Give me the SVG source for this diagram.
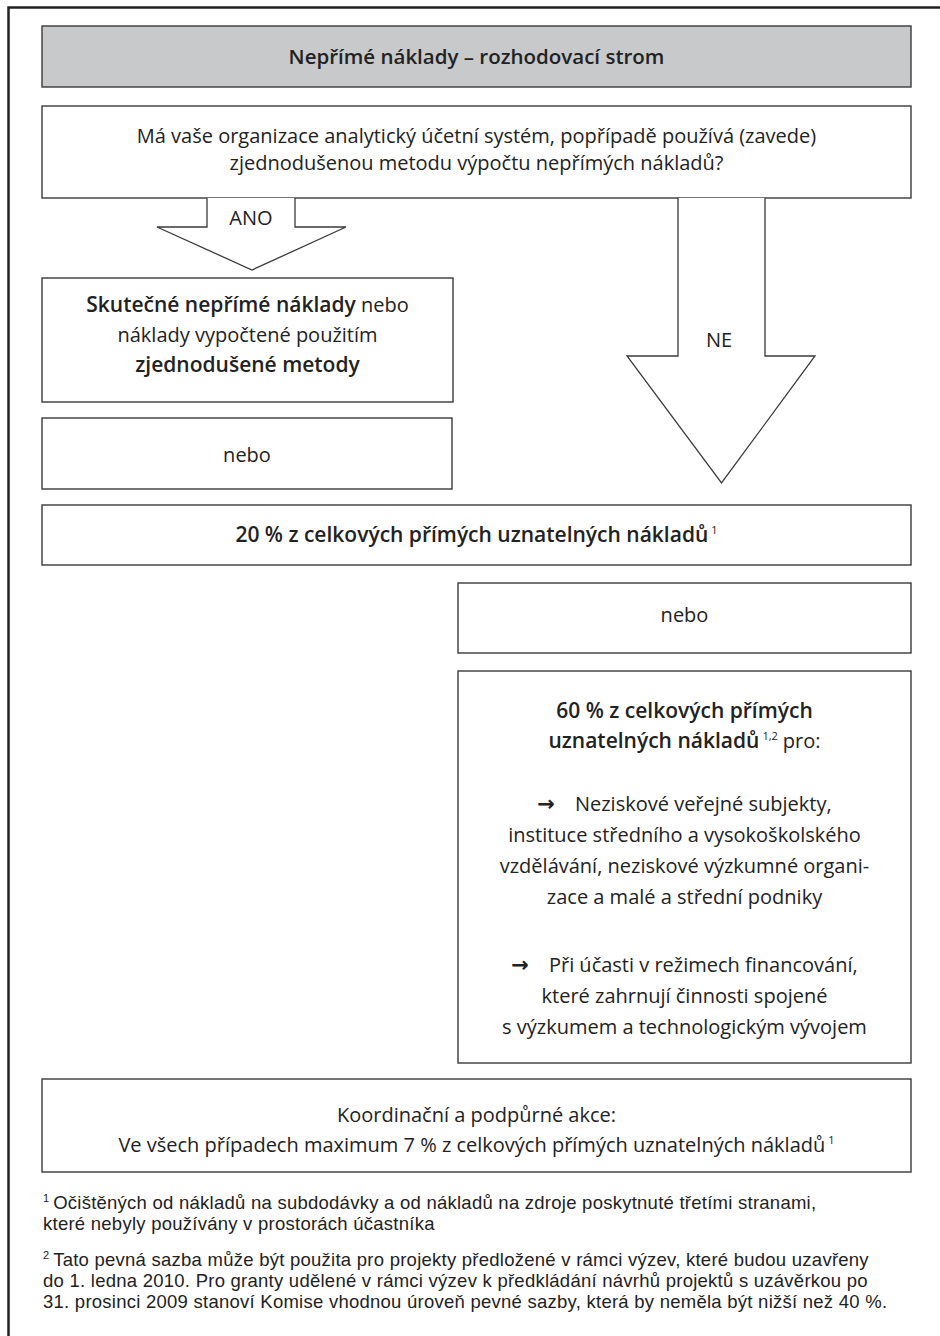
<svg xmlns="http://www.w3.org/2000/svg" width="940" height="1336" viewBox="0 0 940 1336">
<style>
.box{fill:#fff;stroke:#3a3a3a;stroke-width:1.4}
.hdr{fill:#c8c9cb;stroke:#3a3a3a;stroke-width:1.4}
.arr{fill:#fff;stroke:#3a3a3a;stroke-width:1.3;stroke-linejoin:miter}
text{font-family:"Open Sans","Liberation Sans",sans-serif;fill:#222;font-size:20px}
.c{text-anchor:middle}
.b{font-weight:600;font-size:21px}
.t{font-weight:600;font-size:20.5px}
.fn{font-family:"Liberation Sans",Arial,sans-serif;font-size:18.5px;letter-spacing:0.25px}
.sup{font-size:11px;font-weight:normal;letter-spacing:0}
.ar{font-family:"DejaVu Sans",sans-serif;font-weight:bold;font-size:21px}
</style>
<rect width="940" height="1336" fill="#fff"/>
<path d="M8.5,1336 V7.5 H940" fill="none" stroke="#222" stroke-width="2.5"/>
<g id="title">
<rect class="hdr" x="42" y="26" width="869" height="61"/>
<text class="c t" x="476.5" y="64">Nepřímé náklady – rozhodovací strom</text>
</g>
<g id="question">
<rect class="box" x="42" y="106" width="869" height="92"/>
<text class="c" x="476.5" y="143">Má vaše organizace analytický účetní systém, popřípadě používá (zavede)</text>
<text class="c" x="476.5" y="170">zjednodušenou metodu výpočtu nepřímých nákladů?</text>
</g>
<g id="connectors">
<path class="arr" d="M207,198 V227 H157 L252,270 L346,227 H295 V198"/>
<text class="c" x="251" y="225">ANO</text>
<path class="arr" d="M678,198 V356 H627 L721.5,483 L815,356 H765 V198"/>
<text class="c" x="719" y="347">NE</text>
</g>
<g id="actual">
<rect class="box" x="42" y="278" width="411" height="124"/>
<text class="c" x="247.5" y="312"><tspan class="b">Skutečné nepřímé náklady</tspan> nebo</text>
<text class="c" x="247.5" y="342">náklady vypočtené použitím</text>
<text class="c b" x="247.5" y="372">zjednodušené metody</text>
</g>
<g id="or-left">
<rect class="box" x="42" y="418" width="410" height="71"/>
<text class="c" x="247" y="462">nebo</text>
</g>
<g id="flat20">
<rect class="box" x="42" y="505" width="869" height="60"/>
<text class="c b" x="476.5" y="542">20 % z celkových přímých uznatelných nákladů<tspan class="sup" dx="3" dy="-8">1</tspan></text>
</g>
<g id="or-right">
<rect class="box" x="458" y="583" width="453" height="70"/>
<text class="c" x="684.5" y="622">nebo</text>
</g>
<g id="flat60">
<rect class="box" x="458" y="671" width="453" height="392"/>
<text class="c b" x="684.5" y="718">60 % z celkových přímých</text>
<text class="c" x="684.5" y="748"><tspan class="b">uznatelných nákladů</tspan><tspan class="sup" dx="3" dy="-8">1,2</tspan><tspan dx="5" dy="8">pro:</tspan></text>
<text class="c" x="684.5" y="811"><tspan class="ar">→</tspan><tspan dx="20">Neziskové veřejné subjekty,</tspan></text>
<text class="c" x="684.5" y="842">instituce středního a vysokoškolského</text>
<text class="c" x="684.5" y="873">vzdělávání, neziskové výzkumné organi-</text>
<text class="c" x="684.5" y="904">zace a malé a střední podniky</text>
<text class="c" x="684.5" y="972"><tspan class="ar">→</tspan><tspan dx="20">Při účasti v režimech financování,</tspan></text>
<text class="c" x="684.5" y="1003">které zahrnují činnosti spojené</text>
<text class="c" x="684.5" y="1034">s výzkumem a technologickým vývojem</text>
</g>
<g id="coordination">
<rect class="box" x="42" y="1079" width="869" height="93"/>
<text class="c" x="476.5" y="1122">Koordinační a podpůrné akce:</text>
<text class="c" x="476.5" y="1152">Ve všech případech maximum 7 % z celkových přímých uznatelných nákladů<tspan class="sup" dx="3" dy="-8">1</tspan></text>
</g>
<g id="footnotes">
<text class="fn" x="43" y="1209"><tspan class="sup" dy="-7">1</tspan><tspan dx="4" dy="7">Očištěných od nákladů na subdodávky a od nákladů na zdroje poskytnuté třetími stranami,</tspan></text>
<text class="fn" x="43" y="1230">které nebyly používány v prostorách účastníka</text>
<text class="fn" x="43" y="1266"><tspan class="sup" dy="-7">2</tspan><tspan dx="4" dy="7">Tato pevná sazba může být použita pro projekty předložené v rámci výzev, které budou uzavřeny</tspan></text>
<text class="fn" x="43" y="1287">do 1. ledna 2010. Pro granty udělené v rámci výzev k předkládání návrhů projektů s uzávěrkou po</text>
<text class="fn" x="43" y="1308">31. prosinci 2009 stanoví Komise vhodnou úroveň pevné sazby, která by neměla být nižší než 40 %.</text>
</g>
</svg>
